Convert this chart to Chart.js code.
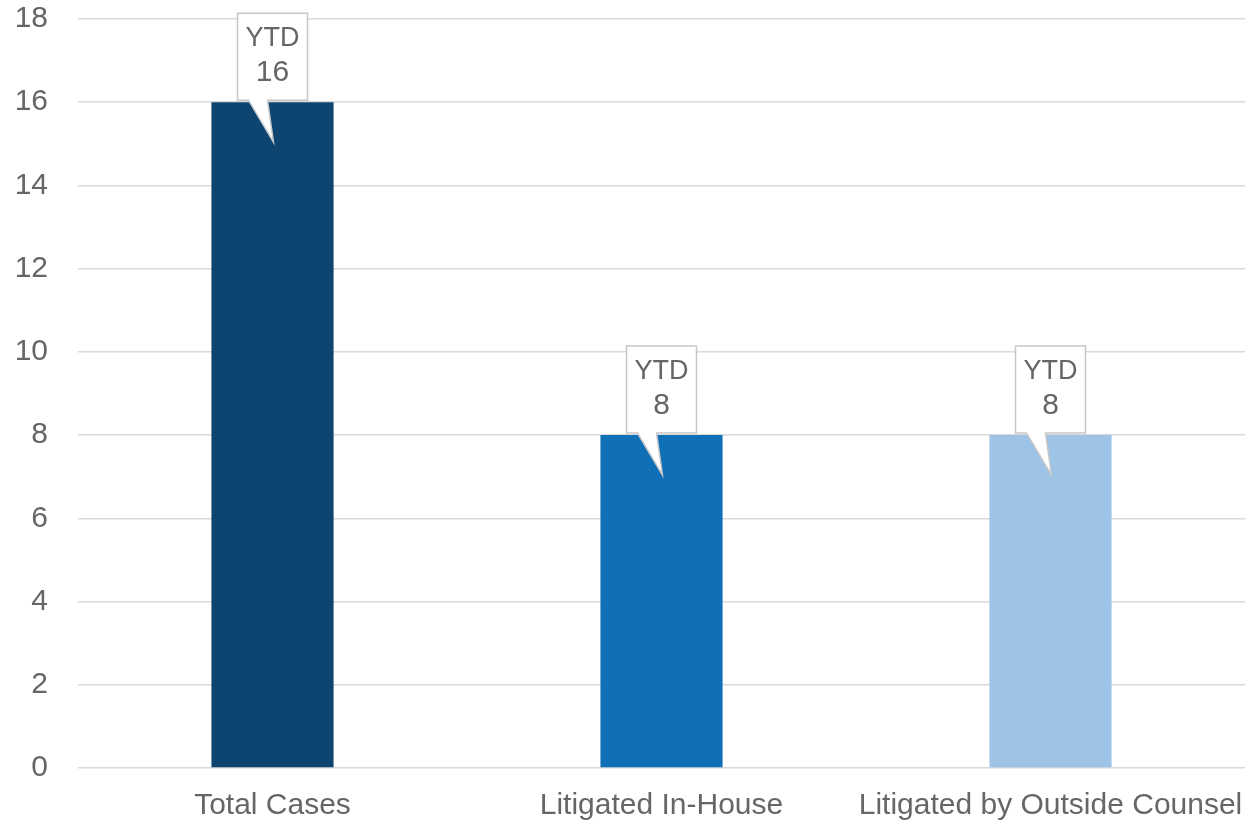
<!DOCTYPE html>
<html lang="en">
<head>
    <meta charset="UTF-8">
    <title>Case Summary YTD</title>
    <script src="https://cdn.jsdelivr.net/npm/chart.js"></script>
    <style>
        * { margin: 0; padding: 0; box-sizing: border-box; }
        html, body { width: 1250px; height: 829px; background: #fff; }
        .chart-container { width: 1250px; height: 829px; position: relative; }
    </style>
</head>
<body>
    <div class="chart-container">
        <canvas id="caseChart"></canvas>
    </div>

    <script>
        const categories = ['Total Cases', 'Litigated In-House', 'Litigated by Outside Counsel'];
        const caseCounts = [16, 8, 8];
        const barColors = ['#0E4470', '#0F70B7', '#9DC3E6'];
        const calloutTitle = 'YTD';

        const FONT = "'Liberation Sans', Arial, sans-serif";
        const TEXT = '#666666';

        // speech-bubble label above each bar, tail pointing into the bar
        const calloutPlugin = {
            id: 'callouts',
            afterDatasetsDraw(chart) {
                const ctx = chart.ctx;
                const meta = chart.getDatasetMeta(0);
                meta.data.forEach((bar, i) => {
                    const cx = bar.x;
                    const top = bar.y;
                    const w = 70, h = 87;
                    const left = cx - w / 2;
                    const boxTop = top - h - 2;
                    const boxBottom = top - 2;
                    ctx.save();
                    ctx.beginPath();
                    ctx.moveTo(left, boxTop);
                    ctx.lineTo(left + w, boxTop);
                    ctx.lineTo(left + w, boxBottom);
                    ctx.lineTo(cx - 5, boxBottom);
                    ctx.lineTo(cx + 1, top + 40);
                    ctx.lineTo(cx - 24, boxBottom);
                    ctx.lineTo(left, boxBottom);
                    ctx.closePath();
                    ctx.fillStyle = '#ffffff';
                    ctx.fill();
                    ctx.strokeStyle = '#c8c8c8';
                    ctx.lineWidth = 1.5;
                    ctx.stroke();

                    ctx.fillStyle = TEXT;
                    ctx.textAlign = 'center';
                    ctx.textBaseline = 'middle';
                    ctx.font = '27px ' + FONT;
                    ctx.fillText(calloutTitle, cx, boxTop + 25);
                    ctx.font = '30px ' + FONT;
                    ctx.fillText(String(caseCounts[i]), cx, boxTop + 60);
                    ctx.restore();
                });
            }
        };

        const ctx = document.getElementById('caseChart').getContext('2d');
        new Chart(ctx, {
            type: 'bar',
            data: {
                labels: categories,
                datasets: [{
                    data: caseCounts,
                    backgroundColor: barColors,
                    barPercentage: 0.314,
                    categoryPercentage: 1
                }]
            },
            options: {
                responsive: true,
                maintainAspectRatio: false,
                animation: false,
                layout: { padding: { top: 0, right: 5, bottom: 0, left: 0 } },
                plugins: {
                    legend: { display: false },
                    tooltip: { enabled: false }
                },
                scales: {
                    x: {
                        grid: { display: false, drawTicks: false },
                        border: { display: false },
                        ticks: {
                            color: TEXT,
                            font: { family: FONT, size: 30 },
                            padding: 20,
                            maxRotation: 0
                        },
                        afterFit(scale) {
                            scale.height = 61;
                            scale.paddingLeft = 0;
                            scale.paddingRight = 0;
                        }
                    },
                    y: {
                        min: 0,
                        max: 18,
                        grid: { color: '#d9d9d9', lineWidth: 1.5, drawTicks: false },
                        border: { display: false },
                        ticks: {
                            stepSize: 2,
                            color: TEXT,
                            font: { family: FONT, size: 30 },
                            padding: 30
                        },
                        afterFit(scale) {
                            scale.width = 78;
                            scale.paddingTop = 19;
                        }
                    }
                }
            },
            plugins: [calloutPlugin]
        });
    </script>
</body>
</html>
